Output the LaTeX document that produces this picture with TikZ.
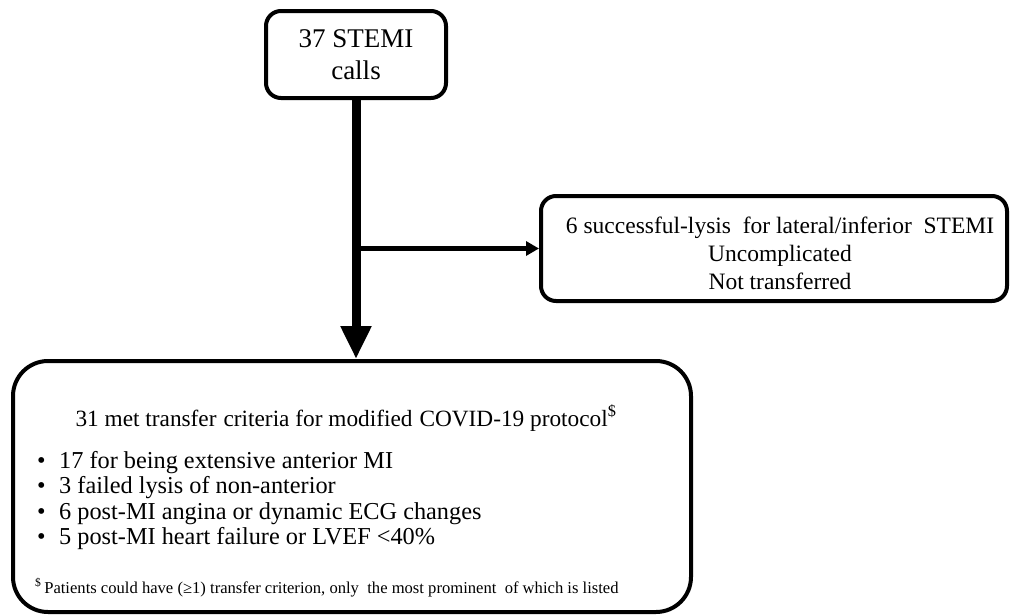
\documentclass[tikz,border=0pt]{standalone}
\usepackage{fontspec}
\setmainfont{Liberation Serif}
\usetikzlibrary{arrows.meta}
\begin{document}
\begin{tikzpicture}[x=1pt,y=-1pt,
  box/.style={draw, line width=4pt, inner sep=0pt},
  txt/.style={inner sep=0pt, align=center},
  bul/.style={inner sep=0pt, anchor=base west, font=\fontsize{24.3}{28}\selectfont}]
\fill[white] (0,0) rectangle (1010,616);
\useasboundingbox (0,0) rectangle (1010,616);
% boxes
\node[box, rounded corners=15pt, minimum width=180pt, minimum height=87pt] (top) at (356,54.5) {};
\node[box, rounded corners=15pt, minimum width=466pt, minimum height=105pt] (right) at (774,248.5) {};
\node[box, rounded corners=35pt, minimum width=678pt, minimum height=251pt] (bot) at (352,486.5) {};
% texts
\node[txt, font=\fontsize{27}{32}\selectfont] (toptext) at (356,55) {37 STEMI\\calls};
\node[txt, font=\fontsize{23.5}{28}\selectfont] (righttext) at (780,253) {6 successful-lysis\ \ for lateral/inferior\ \ STEMI\\Uncomplicated\\Not transferred};
\node[inner sep=0pt, anchor=base, font=\fontsize{23.3}{27}\selectfont] (title) at (346,426) {31 met transfer\hspace{7pt}criteria for modified\hspace{7pt}COVID-19 protocol\textsuperscript{\$}};
\node[bul] (b1) at (37,468) {\makebox[22pt][l]{•}17 for being\hspace{6pt}extensive\hspace{6pt}anterior MI};
\node[bul] (b2) at (37,493) {\makebox[22pt][l]{•}3 failed lysis\hspace{6pt}of non-anterior};
\node[bul] (b3) at (37,519) {\makebox[22pt][l]{•}6 post-MI angina\hspace{6pt}or dynamic\hspace{6pt}ECG changes};
\node[bul] (b4) at (37,544) {\makebox[22pt][l]{•}5 post-MI heart failure or LVEF <40\%};
\node[inner sep=0pt, anchor=base west, font=\fontsize{16.6}{20}\selectfont] (foot) at (35,593) {\textsuperscript{\$}\,Patients could have (≥1) transfer criterion,\ only\ \ the most prominent\ \ of which is listed};
% connectors
\draw[line width=9pt, -{Triangle[width=29pt,length=33pt]}] (top.south) -- (top.south |- bot.north);
\coordinate (j) at (top.south |- right.west);
\draw[line width=4.5pt, -{Triangle[width=14pt,length=13pt]}] (j) -- (right.west);
\end{tikzpicture}
\end{document}
